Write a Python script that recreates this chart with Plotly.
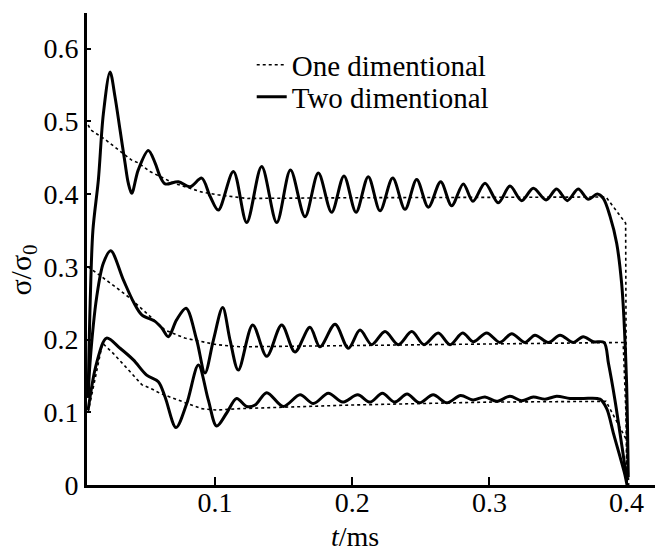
import plotly.graph_objects as go

# ---- Two dimensional (solid) ----
t_up2 = [0.0075, 0.009, 0.011, 0.015, 0.0186, 0.0235, 0.0271, 0.0308, 0.0344, 0.0368, 0.0393, 0.044,
         0.0514, 0.0563, 0.060, 0.0636, 0.0733, 0.0818, 0.0903, 0.0964, 0.1024, 0.1134, 0.1231, 0.134,
         0.145, 0.155, 0.1656, 0.1753, 0.185, 0.194, 0.2028, 0.2117, 0.2203, 0.2295, 0.2385, 0.247,
         0.2555, 0.2645, 0.2725, 0.281, 0.288, 0.2968, 0.3065, 0.315, 0.3235, 0.332, 0.3413, 0.349,
         0.3568, 0.3647, 0.372, 0.3786, 0.383, 0.388, 0.3928, 0.3964, 0.398, 0.400, 0.4012]
y_up2 = [0.12, 0.25, 0.35, 0.42, 0.51, 0.568, 0.534, 0.488, 0.443, 0.415, 0.401, 0.433,
         0.460, 0.443, 0.424, 0.414, 0.417, 0.410, 0.422, 0.397, 0.378, 0.431, 0.361, 0.438,
         0.361, 0.433, 0.369, 0.429, 0.375, 0.425, 0.375, 0.424, 0.377, 0.422, 0.379, 0.420,
         0.382, 0.417, 0.384, 0.414, 0.390, 0.415, 0.388, 0.411, 0.391, 0.408, 0.392, 0.407,
         0.391, 0.407, 0.393, 0.400, 0.394, 0.369, 0.332, 0.277, 0.231, 0.140, 0.011]

t_mid2 = [0.0075, 0.0089, 0.0138, 0.0186, 0.024, 0.0332, 0.0405, 0.0466, 0.0563, 0.0612, 0.066, 0.072,
          0.0789, 0.0867, 0.0927, 0.0988, 0.1056, 0.111, 0.117, 0.1275, 0.1377, 0.1486, 0.1583, 0.1692,
          0.1765, 0.1875, 0.1972, 0.2057, 0.2142, 0.2239, 0.2336, 0.2434, 0.2523, 0.2627, 0.2713, 0.2805,
          0.2883, 0.298, 0.3077, 0.3162, 0.326, 0.3332, 0.343, 0.3515, 0.3612, 0.3683, 0.3757, 0.3835,
          0.3868, 0.3915, 0.3952, 0.3988, 0.400]
y_mid2 = [0.12, 0.168, 0.259, 0.305, 0.322, 0.282, 0.252, 0.234, 0.225, 0.216, 0.204, 0.227,
          0.243, 0.199, 0.154, 0.199, 0.244, 0.199, 0.158, 0.220, 0.177, 0.220, 0.183, 0.217,
          0.190, 0.221, 0.188, 0.213, 0.193, 0.211, 0.193, 0.211, 0.193, 0.209, 0.193, 0.209,
          0.197, 0.209, 0.196, 0.208, 0.196, 0.206, 0.196, 0.206, 0.196, 0.204, 0.197, 0.196,
          0.167, 0.117, 0.071, 0.025, 0.007]

t_low2 = [0.0075, 0.0136, 0.021, 0.0308, 0.0405, 0.0502, 0.0587, 0.0636, 0.0716, 0.0794, 0.0879, 0.0951,
          0.1012, 0.1085, 0.1158, 0.1231, 0.1292, 0.1377, 0.1498, 0.162, 0.1717, 0.1826, 0.193, 0.204,
          0.213, 0.222, 0.231, 0.240, 0.249, 0.259, 0.269, 0.279, 0.288, 0.2968, 0.3053, 0.315,
          0.3235, 0.332, 0.3405, 0.349, 0.3587, 0.3684, 0.3806, 0.3855, 0.3904, 0.3952, 0.3988, 0.4003]
y_low2 = [0.103, 0.167, 0.202, 0.188, 0.172, 0.151, 0.142, 0.121, 0.079, 0.112, 0.165, 0.117,
          0.081, 0.099, 0.119, 0.108, 0.110, 0.127, 0.108, 0.124, 0.112, 0.126, 0.114, 0.124,
          0.114, 0.126, 0.114, 0.125, 0.113, 0.124, 0.113, 0.123, 0.117, 0.121, 0.115, 0.122,
          0.116, 0.121, 0.118, 0.122, 0.119, 0.119, 0.118, 0.105, 0.071, 0.039, 0.014, 0.0]

# ---- One dimensional (dotted) ----
t_up1 = [0.0075, 0.0096, 0.02, 0.03, 0.039, 0.044, 0.0526, 0.07, 0.09, 0.102, 0.123, 0.2, 0.3, 0.385,
         0.3993, 0.3997, 0.4]
y_up1 = [0.495, 0.488, 0.475, 0.46, 0.447, 0.443, 0.431, 0.415, 0.403, 0.399, 0.394, 0.395, 0.396, 0.396,
         0.36, 0.2, 0.0]

t_mid1 = [0.0075, 0.015, 0.027, 0.038, 0.0636, 0.078, 0.101, 0.118, 0.2, 0.3, 0.3975, 0.3995, 0.4005]
y_mid1 = [0.30, 0.29, 0.273, 0.257, 0.213, 0.202, 0.193, 0.190, 0.192, 0.194, 0.196, 0.1, 0.0]

t_low1 = [0.0075, 0.018, 0.0258, 0.033, 0.039, 0.0466, 0.054, 0.06, 0.0794, 0.09, 0.101, 0.118, 0.2, 0.3,
          0.385, 0.4005, 0.4015]
y_low1 = [0.10, 0.195, 0.181, 0.167, 0.154, 0.138, 0.132, 0.126, 0.112, 0.105, 0.103, 0.105, 0.11, 0.114,
          0.115, 0.06, 0.0]

x_ticks = [0.1, 0.2, 0.3, 0.4]
x_ticklabels = ["0.1", "0.2", "0.3", "0.4"]
y_ticks = [0, 0.1, 0.2, 0.3, 0.4, 0.5, 0.6]
y_ticklabels = ["0", "0.1", "0.2", "0.3", "0.4", "0.5", "0.6"]

FONT = "Liberation Serif"
fig = go.Figure()

one_dim = [(t_up1, y_up1), (t_mid1, y_mid1), (t_low1, y_low1)]
two_dim = [(t_up2, y_up2), (t_mid2, y_mid2), (t_low2, y_low2)]

for i, (tx, ty) in enumerate(one_dim):
    fig.add_trace(go.Scatter(x=tx, y=ty, mode="lines", name="One dimentional",
                             line=dict(color="black", width=1.6, dash="dot"),
                             showlegend=(i == 0), legend="legend"))
for i, (tx, ty) in enumerate(two_dim):
    fig.add_trace(go.Scatter(x=tx, y=ty, mode="lines", name="Two dimentional",
                             line=dict(color="black", width=3, shape="spline", smoothing=0.9),
                             showlegend=(i == 0), legend="legend2"))

leg_common = dict(xanchor="left", yanchor="middle", bgcolor="rgba(0,0,0,0)",
                  font=dict(family=FONT, size=29, color="black"), itemwidth=30,
                  borderwidth=0)

fig.update_layout(
    width=655, height=557,
    margin=dict(l=87, r=0, t=13, b=72),
    paper_bgcolor="white", plot_bgcolor="white",
    font=dict(family=FONT, size=28, color="black"),
    legend=dict(x=0.29, y=0.890, **leg_common),
    legend2=dict(x=0.29, y=0.822, **leg_common),
    xaxis=dict(range=[0.0067, 0.4207], showgrid=False, zeroline=False,
               showline=True, linecolor="black", linewidth=3,
               ticks="inside", ticklen=8, tickwidth=2, tickcolor="black",
               tickvals=x_ticks, ticktext=x_ticklabels, ticklabelstandoff=-10,
               tickfont=dict(family=FONT, size=28)),
    yaxis=dict(range=[0, 0.649], showgrid=False, zeroline=False,
               showline=True, linecolor="black", linewidth=3,
               ticks="inside", ticklen=4, tickwidth=2, tickcolor="black",
               tickvals=y_ticks, ticktext=y_ticklabels,
               tickfont=dict(family=FONT, size=28)),
    annotations=[
        dict(text="<i>t</i>/ms", xref="paper", yref="paper", x=0.472, y=-0.110,
             showarrow=False, font=dict(family=FONT, size=28), xanchor="center", yanchor="middle"),
        dict(text="σ/σ<sub>0</sub>", xref="paper", yref="paper", x=-0.112, y=0.455,
             showarrow=False, textangle=-90, font=dict(family=FONT, size=30),
             xanchor="center", yanchor="middle"),
    ],
)

fig.write_html("out.html")
